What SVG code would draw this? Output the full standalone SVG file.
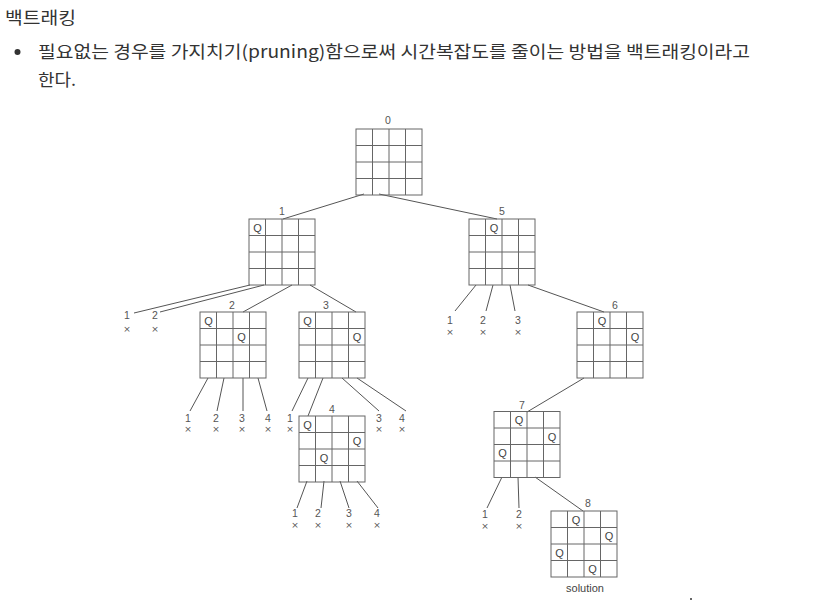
<svg xmlns="http://www.w3.org/2000/svg" xmlns:xlink="http://www.w3.org/1999/xlink" width="822" height="601" viewBox="0 0 822 601">
<style>
.hd{font-family:"Noto Sans CJK KR","Noto Sans",sans-serif;fill:#333;}
.grid{fill:none;stroke:#666;stroke-width:1;}
.q{font-family:"Liberation Sans",Arial,sans-serif;font-size:11px;fill:#444;text-anchor:middle;}
.lb{font-family:"Liberation Sans",Arial,sans-serif;font-size:10.5px;fill:#555;text-anchor:middle;}
.x{font-family:"DejaVu Sans",sans-serif;font-size:9px;fill:#555;text-anchor:middle;}
.sol{font-family:"Liberation Sans",Arial,sans-serif;font-size:11px;fill:#444;text-anchor:middle;}
#connectors line{stroke:#555;stroke-width:1;}
</style>
<defs>
<g id="board" class="grid">
<rect x="0" y="0" width="66" height="66"/>
<path d="M16.5 0V66M33 0V66M49.5 0V66M0 16.5H66M0 33H66M0 49.5H66"/>
</g>
</defs>
<rect width="822" height="601" fill="#fff"/>
<g id="header">
<text class="hd" x="5" y="24" font-size="17" textLength="71" lengthAdjust="spacingAndGlyphs">백트래킹</text>
<circle cx="17.5" cy="52" r="3" fill="#333"/>
<text class="hd" x="38" y="58" font-size="17" textLength="712" lengthAdjust="spacingAndGlyphs">필요없는 경우를 가지치기(pruning)함으로써 시간복잡도를 줄이는 방법을 백트래킹이라고</text>
<text class="hd" x="38" y="86" font-size="17" textLength="38" lengthAdjust="spacingAndGlyphs">한다.</text>
</g>
<g id="connectors">
<line x1="364" y1="194" x2="283" y2="219"/>
<line x1="379" y1="194" x2="497" y2="219"/>
<line x1="250" y1="285" x2="134" y2="313"/>
<line x1="264" y1="285" x2="160" y2="312"/>
<line x1="292" y1="285" x2="243" y2="312"/>
<line x1="310" y1="285" x2="356" y2="312"/>
<line x1="208" y1="378" x2="190" y2="411"/>
<line x1="224" y1="378" x2="217" y2="411"/>
<line x1="243" y1="378" x2="243" y2="411"/>
<line x1="258" y1="378" x2="267" y2="411"/>
<line x1="308" y1="378" x2="292" y2="411"/>
<line x1="323" y1="378" x2="308" y2="416"/>
<line x1="342" y1="378" x2="379" y2="411"/>
<line x1="357" y1="378" x2="406" y2="411"/>
<line x1="307" y1="481" x2="297" y2="508"/>
<line x1="324" y1="481" x2="321" y2="508"/>
<line x1="340" y1="481" x2="349" y2="508"/>
<line x1="357" y1="481" x2="378" y2="508"/>
<line x1="476" y1="285" x2="455" y2="311"/>
<line x1="493" y1="285" x2="486" y2="311"/>
<line x1="510" y1="285" x2="515" y2="311"/>
<line x1="528" y1="285" x2="604" y2="312"/>
<line x1="584" y1="378" x2="527" y2="412"/>
<line x1="502" y1="477" x2="487" y2="508"/>
<line x1="518" y1="477" x2="519" y2="508"/>
<line x1="535" y1="477" x2="583" y2="511"/>
</g>
<g id="node0">
<use xlink:href="#board" href="#board" x="356" y="129"/>
<text class="lb" x="388" y="124">0</text>
</g>
<g id="node1">
<use xlink:href="#board" href="#board" x="249" y="219"/>
<text class="lb" x="282" y="215">1</text>
<text class="q" x="257.5" y="231.5">Q</text>
</g>
<g id="node5">
<use xlink:href="#board" href="#board" x="469" y="219"/>
<text class="lb" x="502" y="215">5</text>
<text class="q" x="494" y="231.5">Q</text>
</g>
<g id="node2">
<use xlink:href="#board" href="#board" x="200" y="312"/>
<text class="lb" x="232" y="309">2</text>
<text class="q" x="208.5" y="324.5">Q</text>
<text class="q" x="241.5" y="341">Q</text>
</g>
<g id="node3">
<use xlink:href="#board" href="#board" x="299" y="312"/>
<text class="lb" x="326" y="309">3</text>
<text class="q" x="307.5" y="324.5">Q</text>
<text class="q" x="357" y="341">Q</text>
</g>
<g id="node6">
<use xlink:href="#board" href="#board" x="577" y="312"/>
<text class="lb" x="615" y="309">6</text>
<text class="q" x="602" y="324.5">Q</text>
<text class="q" x="635" y="341">Q</text>
</g>
<g id="node4">
<use xlink:href="#board" href="#board" x="299" y="416"/>
<text class="lb" x="332" y="413">4</text>
<text class="q" x="307.5" y="428.5">Q</text>
<text class="q" x="357" y="445">Q</text>
<text class="q" x="324" y="461.5">Q</text>
</g>
<g id="node7">
<use xlink:href="#board" href="#board" x="494" y="411.5"/>
<text class="lb" x="522" y="409">7</text>
<text class="q" x="519" y="424">Q</text>
<text class="q" x="552" y="440.5">Q</text>
<text class="q" x="502.5" y="457">Q</text>
</g>
<g id="node8">
<use xlink:href="#board" href="#board" x="551" y="511"/>
<text class="lb" x="588" y="507">8</text>
<text class="q" x="576" y="523.5">Q</text>
<text class="q" x="609" y="540">Q</text>
<text class="q" x="559.5" y="556.5">Q</text>
<text class="q" x="592.5" y="573">Q</text>
<text class="sol" x="585" y="592">solution</text>
</g>
<g id="leaves">
<text class="lb" x="127" y="319">1</text><text class="x" x="127" y="332">×</text>
<text class="lb" x="155" y="319">2</text><text class="x" x="155" y="332">×</text>
<text class="lb" x="188" y="422">1</text><text class="x" x="188" y="432">×</text>
<text class="lb" x="216" y="422">2</text><text class="x" x="216" y="432">×</text>
<text class="lb" x="242" y="422">3</text><text class="x" x="242" y="432">×</text>
<text class="lb" x="268" y="422">4</text><text class="x" x="268" y="432">×</text>
<text class="lb" x="290" y="422">1</text><text class="x" x="290" y="432">×</text>
<text class="lb" x="379" y="422">3</text><text class="x" x="379" y="432">×</text>
<text class="lb" x="402" y="422">4</text><text class="x" x="402" y="432">×</text>
<text class="lb" x="295" y="517">1</text><text class="x" x="295" y="528">×</text>
<text class="lb" x="318" y="517">2</text><text class="x" x="318" y="528">×</text>
<text class="lb" x="349" y="517">3</text><text class="x" x="349" y="528">×</text>
<text class="lb" x="377" y="517">4</text><text class="x" x="377" y="528">×</text>
<text class="lb" x="450" y="324">1</text><text class="x" x="450" y="335">×</text>
<text class="lb" x="483" y="324">2</text><text class="x" x="483" y="335">×</text>
<text class="lb" x="518" y="324">3</text><text class="x" x="518" y="335">×</text>
<text class="lb" x="485" y="518">1</text><text class="x" x="485" y="529">×</text>
<text class="lb" x="519" y="518">2</text><text class="x" x="519" y="529">×</text>
</g>
<circle cx="691" cy="599" r="1" fill="#333"/>
</svg>
